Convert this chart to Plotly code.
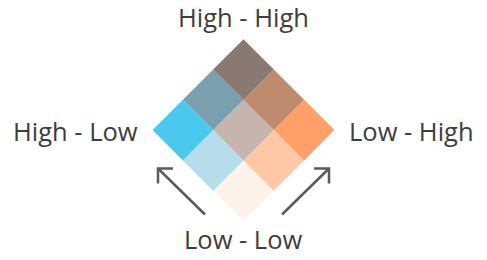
import plotly.graph_objects as go

# Bivariate legend data: rows = blue variable level (0 low .. 2 high),
# cols = orange variable level (0 low .. 2 high)
blue_levels = [0, 1, 2]
orange_levels = [0, 1, 2]
cell_colors = [
    ["#FEF3EB", "#FEC8A7", "#FEA068"],
    ["#B6DDEC", "#C5B5AE", "#BF8B6F"],
    ["#4BC8EE", "#7AA0AF", "#8A7972"],
]
corner_labels = ["High - High", "High - Low", "Low - High", "Low - Low"]

W, H = 487, 260
x0, y0 = 243.5, 221.0    # bottom vertex of diamond (pixel space)
s = 30.3                 # half-diagonal of one cell


def to_px(u, v):
    return x0 + s * (v - u), y0 - s * (u + v)


fig = go.Figure()
for a in blue_levels:
    for b in orange_levels:
        pts = [to_px(a, b), to_px(a + 1, b), to_px(a + 1, b + 1), to_px(a, b + 1), to_px(a, b)]
        fig.add_trace(go.Scatter(
            x=[p[0] for p in pts], y=[p[1] for p in pts],
            mode="lines", fill="toself", fillcolor=cell_colors[a][b],
            line=dict(width=0, color=cell_colors[a][b]),
            hoverinfo="skip", showlegend=False,
        ))

n = len(blue_levels)
top = to_px(n, n)
left = to_px(n, 0)
right = to_px(0, n)
bottom = to_px(0, 0)

font = dict(family="Open Sans", size=25.5, color="#3d3d3d")
positions = [
    (top[0], 17, "center"),
    (left[0] - 13, left[1] + 1, "right"),
    (right[0] + 13, right[1] + 1, "left"),
    (bottom[0], 239, "center"),
]
for txt, (px, py, xa) in zip(corner_labels, positions):
    fig.add_annotation(x=px, y=py, text=txt, showarrow=False, xanchor=xa,
                       yanchor="middle", font=font, xref="x", yref="y")

# arrows
arrow_col = "#5a5a5a"
for sign in (-1, 1):
    tipx = bottom[0] + sign * 85.5
    tipy = 168.5
    startx = bottom[0] + sign * 38.5
    starty = 214.5
    fig.add_shape(type="line", x0=startx, y0=starty, x1=tipx, y1=tipy,
                  line=dict(color=arrow_col, width=2.5), xref="x", yref="y")
    fig.add_shape(type="path",
                  path=f"M {tipx - sign * 15} {tipy} L {tipx} {tipy} L {tipx} {tipy + 15}",
                  line=dict(color=arrow_col, width=2.5), xref="x", yref="y")

fig.update_layout(
    width=W, height=H, margin=dict(l=0, r=0, t=0, b=0),
    paper_bgcolor="white", plot_bgcolor="white",
    xaxis=dict(range=[0, W], visible=False, fixedrange=True),
    yaxis=dict(range=[H, 0], visible=False, fixedrange=True),
    showlegend=False,
)
fig.write_html(
    "out.html",
    config={"displayModeBar": False},
    post_script="document.body.style.margin='0';document.body.style.overflow='hidden';",
)
